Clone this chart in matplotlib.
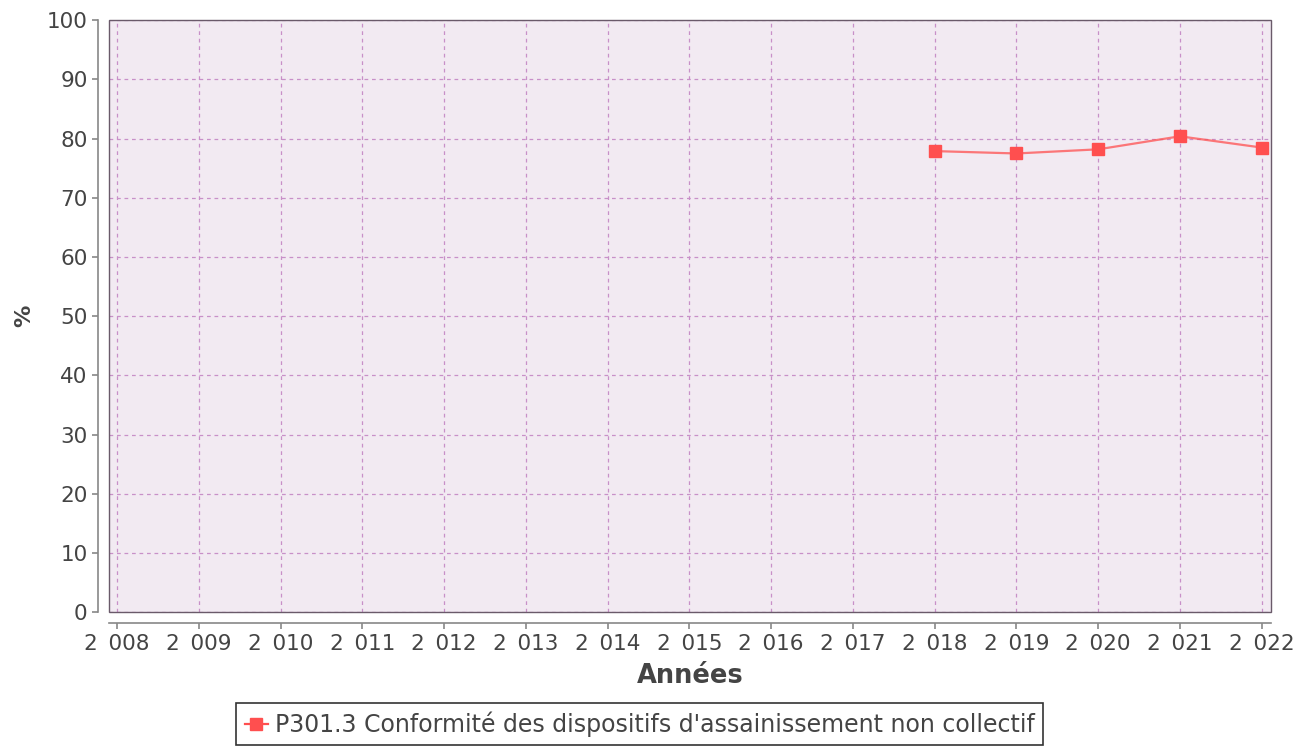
import matplotlib.pyplot as plt
from matplotlib.patches import Rectangle

years = [2008, 2009, 2010, 2011, 2012, 2013, 2014, 2015, 2016, 2017, 2018, 2019, 2020, 2021, 2022]
data_years = [2018, 2019, 2020, 2021, 2022]
values = [77.9, 77.5, 78.2, 80.4, 78.5]
y_ticks = [0, 10, 20, 30, 40, 50, 60, 70, 80, 90, 100]
series_label = "P301.3 Conformité des dispositifs d'assainissement non collectif"

red = '#FF4F4F'
grid_col = '#C890C8'
txt_col = '#444444'

fig = plt.figure(figsize=(13.14, 7.52), dpi=100)
ax = fig.add_axes([0.083, 0.186, 0.884, 0.787])
ax.set_facecolor('#F2EAF2')

ax.plot(data_years, values, color=red, alpha=0.75, lw=1.6, zorder=3)
ax.plot(data_years, values, ls='none', marker='s', ms=8.5, color=red, zorder=4)
# proxy for the legend (line + square)
ax.plot([], [], color=red, lw=1.6, marker='s', ms=8.5, label=series_label)

ax.set_xlim(2007.9, 2022.11)
ax.set_ylim(0, 100)
ax.set_xticks(years)
ax.set_xticklabels([f"{y:,}".replace(',', '\u2002') for y in years])
ax.set_yticks(y_ticks)

ax.grid(True, color=grid_col, ls=(0, (3, 3)), lw=0.9)
ax.set_axisbelow(True)

for s in ['top', 'right']:
    ax.spines[s].set_visible(False)
for s in ['left', 'bottom']:
    ax.spines[s].set_position(('outward', 8))
    ax.spines[s].set_color('#888888')
    ax.spines[s].set_linewidth(1.2)
ax.add_patch(Rectangle((0, 0), 1, 1, transform=ax.transAxes, fill=False,
                       edgecolor='#6A5A6A', lw=1.0, zorder=5, clip_on=False))

ax.tick_params(axis='both', colors='#888888', labelcolor=txt_col,
               labelsize=15.5, length=4, width=1.2)
ax.tick_params(axis='x', pad=4)

ax.set_xlabel('Années', fontsize=18.5, fontweight='bold', color=txt_col, labelpad=6)
ax.set_ylabel('%', fontsize=16, fontweight='bold', color=txt_col, labelpad=9)

leg = fig.legend(loc='lower center', bbox_to_anchor=(0.487, 0.009), fontsize=17,
                 frameon=True, fancybox=False, handlelength=1.0, handletextpad=0.3,
                 borderpad=0.35, borderaxespad=0, labelcolor=txt_col)
leg.get_frame().set_edgecolor('black')
leg.get_frame().set_linewidth(1.2)

fig.savefig('out.png', dpi=100)
